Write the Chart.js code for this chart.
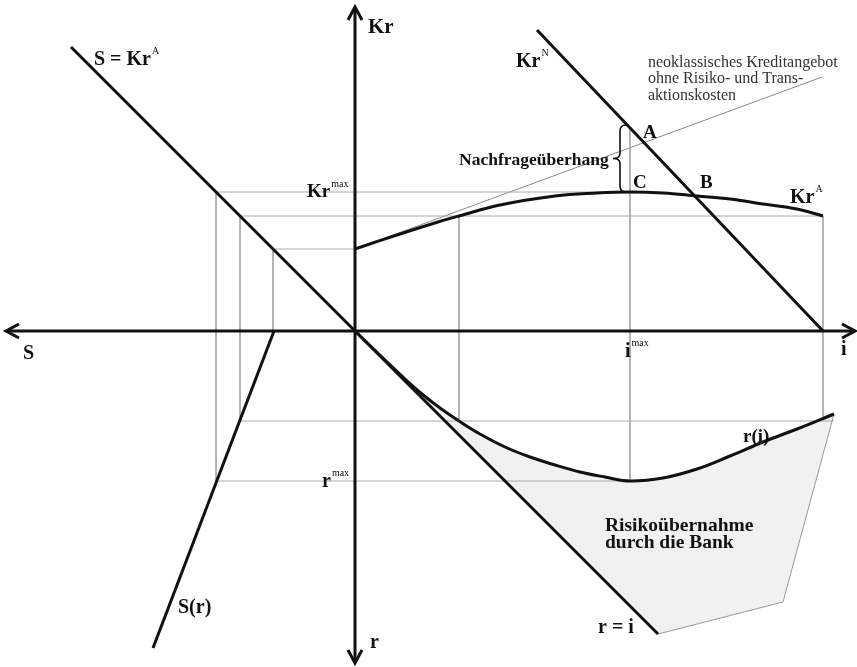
<!DOCTYPE html>
<html>
<head>
<meta charset="utf-8">
<script src="https://cdn.jsdelivr.net/npm/chart.js@4/dist/chart.umd.min.js"></script>
<style>
html,body{margin:0;padding:0;background:#fff;}
#wrap{width:857px;height:667px;position:relative;}
</style>
</head>
<body>
<div id="wrap"><canvas id="c"></canvas></div>
<script>
// ---- data (abstract units; origin = intersection of axes; i right, Kr up, S left, r down) ----
const iAxisRange = [-34.9, 50.0];
const krAxisRange = [-33.2, 32.4];

const krA_i  = [0, 4.5, 8.3, 10.4, 14.5, 20.0, 24.2, 27.5, 30.8, 34.2, 37.5, 40.8, 44.2, 46.8];
const krA_kr = [8.2, 9.7, 10.9, 11.5, 12.6, 13.5, 13.8, 13.9, 13.8, 13.5, 13.2, 12.7, 12.2, 11.5];

const ri_i = [0, 3.0, 5.0, 6.7, 8.5, 10.4, 12.5, 15.0, 17.5, 20.0, 22.5, 25.0, 27.5, 30.8, 34.2, 37.5, 40.8, 44.2, 47.9];
const ri_r = [0, -2.9, -4.8, -6.3, -7.7, -9.0, -10.3, -11.6, -12.6, -13.4, -14.1, -14.6, -15.0, -14.7, -13.8, -12.5, -11.1, -9.8, -8.3];

const sKrA_x = [-28.4, 0];   const sKrA_y = [28.4, 0];
const krN_x  = [18.2, 46.8]; const krN_y  = [30.1, 0];
const neo_x  = [0, 46.7];    const neo_y  = [8.2, 25.4];
const rEqI_x = [0, 30.3];    const rEqI_y = [0, -30.3];
const sR_x   = [-8.1, -20.2]; const sR_y  = [0, -31.7];
const bank_x = [42.8, 30.3]; const bank_y = [-27.1, -30.3];

const krMax = 13.9, krMid = 11.5, krLow = 8.2;
const rMax = -15.0, rMid = -9.0;
const iMax = 27.5, iLow = 10.4, iHigh = 46.8, iRiEnd = 47.9;
const pointA_kr = 20.4;

// ---- build datasets ----
const pts = (xs, ys) => xs.map((x, k) => ({x, y: ys[k]}));
const BLACK = '#111';
const GUIDE = '#aaa';

function line(xs, ys, opts) {
  return Object.assign({data: pts(xs, ys), showLine: true, pointRadius: 0, borderColor: BLACK,
    borderWidth: 3, fill: false, tension: 0, order: 0}, opts || {});
}
function guide(xs, ys) { return line(xs, ys, {borderColor: GUIDE, borderWidth: 1, order: 5}); }

const shadeX = ri_i.concat(bank_x, [0]);
const shadeY = ri_r.concat(bank_y, [0]);

const datasets = [
  // shaded area
  line(shadeX, shadeY, {borderColor: '#999', borderWidth: 1, backgroundColor: '#f1f1f1', fill: 'shape', order: 10}),
  // guides
  guide([-krMax, iMax], [krMax, krMax]),
  guide([-krMid, iHigh], [krMid, krMid]),
  guide([-krLow, 0], [krLow, krLow]),
  guide([-krMax, -krMax], [krMax, rMax]),
  guide([-krMid, -krMid], [krMid, rMid]),
  guide([-krLow, -krLow], [krLow, 0]),
  guide([-krMid, iRiEnd], [rMid, rMid]),
  guide([-krMax, iMax], [rMax, rMax]),
  guide([iMax, iMax], [pointA_kr, rMax]),
  guide([iLow, iLow], [krMid, rMid]),
  guide([iHigh, iHigh], [krMid, rMid + 0.3]),
  line(neo_x, neo_y, {borderColor: '#888', borderWidth: 1, order: 5}),
  // axes
  line(iAxisRange, [0, 0], {borderWidth: 3}),
  line([0, 0], krAxisRange, {borderWidth: 3}),
  // curves / lines
  line(sKrA_x, sKrA_y),
  line(krN_x, krN_y),
  line(rEqI_x, rEqI_y),
  line(sR_x, sR_y),
  line(krA_i, krA_kr, {tension: 0.4}),
  line(ri_i, ri_r, {tension: 0.4}),
];

// ---- labels ----
const SERIF = '"Liberation Serif", "DejaVu Serif", serif';
const labels = [
  {t: 'Kr', x: 1.3, y: 29.8, size: 21},
  {t: 'S = Kr', sup: 'A', x: -26.1, y: 26.6, size: 20},
  {t: 'Kr', sup: 'N', x: 16.1, y: 26.4, size: 20},
  {t: 'neoklassisches Kreditangebot', x: 29.3, y: 26.4, size: 16, bold: false, color: '#333'},
  {t: 'ohne Risiko- und Trans-', x: 29.3, y: 24.8, size: 16, bold: false, color: '#333'},
  {t: 'aktionskosten', x: 29.3, y: 23.1, size: 16, bold: false, color: '#333'},
  {t: 'A', x: 28.8, y: 19.3, size: 19},
  {t: 'C', x: 27.8, y: 14.3, size: 19},
  {t: 'B', x: 34.5, y: 14.3, size: 19},
  {t: 'Nachfrageüberhang', x: 10.4, y: 16.6, size: 17.5},
  {t: 'Kr', sup: 'max', x: -4.8, y: 13.4, size: 19},
  {t: 'Kr', sup: 'A', x: 43.5, y: 12.8, size: 20},
  {t: 'S', x: -33.2, y: -2.8, size: 20},
  {t: 'i', sup: 'max', x: 27.0, y: -2.6, size: 20},
  {t: 'i', x: 48.6, y: -2.4, size: 20},
  {t: 'r(i)', x: 38.8, y: -11.1, size: 19},
  {t: 'r', sup: 'max', x: -3.3, y: -15.6, size: 20},
  {t: 'Risikoübernahme', x: 25.0, y: -20.0, size: 19.5},
  {t: 'durch die Bank', x: 25.0, y: -21.7, size: 19.5},
  {t: 'S(r)', x: -17.7, y: -28.2, size: 20},
  {t: 'r = i', x: 24.3, y: -30.2, size: 20},
  {t: 'r', x: 1.5, y: -31.7, size: 20},
];
const brace = {x: 26.5, tipX: 25.8, top: 20.6, bottom: 13.9};

const overlay = {
  id: 'overlay',
  afterDatasetsDraw(chart) {
    const ctx = chart.ctx, xs = chart.scales.x, ys = chart.scales.y;
    const px = v => xs.getPixelForValue(v), py = v => ys.getPixelForValue(v);
    ctx.save();
    // arrowheads
    ctx.strokeStyle = BLACK; ctx.lineWidth = 3; ctx.lineCap = 'butt'; ctx.lineJoin = 'miter';
    const arrow = (tx, ty, dx, dy) => {
      const L = 13, W = 7;
      const nx = -dy, ny = dx;
      ctx.beginPath();
      ctx.moveTo(tx - dx * L + nx * W, ty - dy * L + ny * W);
      ctx.lineTo(tx, ty);
      ctx.lineTo(tx - dx * L - nx * W, ty - dy * L - ny * W);
      ctx.stroke();
    };
    arrow(px(iAxisRange[0]), py(0), -1, 0);
    arrow(px(iAxisRange[1]), py(0), 1, 0);
    arrow(px(0), py(krAxisRange[1]), 0, -1);
    arrow(px(0), py(krAxisRange[0]), 0, 1);
    // brace
    ctx.lineWidth = 1.6;
    const bx = px(brace.x), tip = px(brace.tipX), t = py(brace.top), b = py(brace.bottom), m = (t + b) / 2;
    ctx.beginPath();
    ctx.moveTo(bx + 6, t);
    ctx.quadraticCurveTo(bx, t, bx, t + 6);
    ctx.lineTo(bx, m - 5);
    ctx.quadraticCurveTo(bx, m, tip, m);
    ctx.quadraticCurveTo(bx, m, bx, m + 5);
    ctx.lineTo(bx, b - 6);
    ctx.quadraticCurveTo(bx, b, bx + 6, b);
    ctx.stroke();
    // text
    ctx.textBaseline = 'alphabetic'; ctx.textAlign = 'left';
    labels.forEach(l => {
      const bold = l.bold === false ? '' : 'bold ';
      ctx.fillStyle = l.color || BLACK;
      ctx.font = bold + l.size + 'px ' + SERIF;
      const X = px(l.x), Y = py(l.y);
      ctx.fillText(l.t, X, Y);
      if (l.sup) {
        const w = ctx.measureText(l.t).width;
        ctx.font = '10px ' + SERIF;
        ctx.fillText(l.sup, X + w + 1, Y - l.size * 0.55);
      }
    });
    ctx.restore();
  }
};

new Chart(document.getElementById('c'), {
  type: 'scatter',
  data: {datasets},
  options: {
    responsive: true, maintainAspectRatio: false, animation: false,
    layout: {padding: 0},
    plugins: {legend: {display: false}, tooltip: {enabled: false}},
    scales: {
      x: {type: 'linear', min: -35.5, max: 50.2, display: false},
      y: {type: 'linear', min: -33.6, max: 33.1, display: false}
    }
  },
  plugins: [overlay]
});
</script>
</body>
</html>
